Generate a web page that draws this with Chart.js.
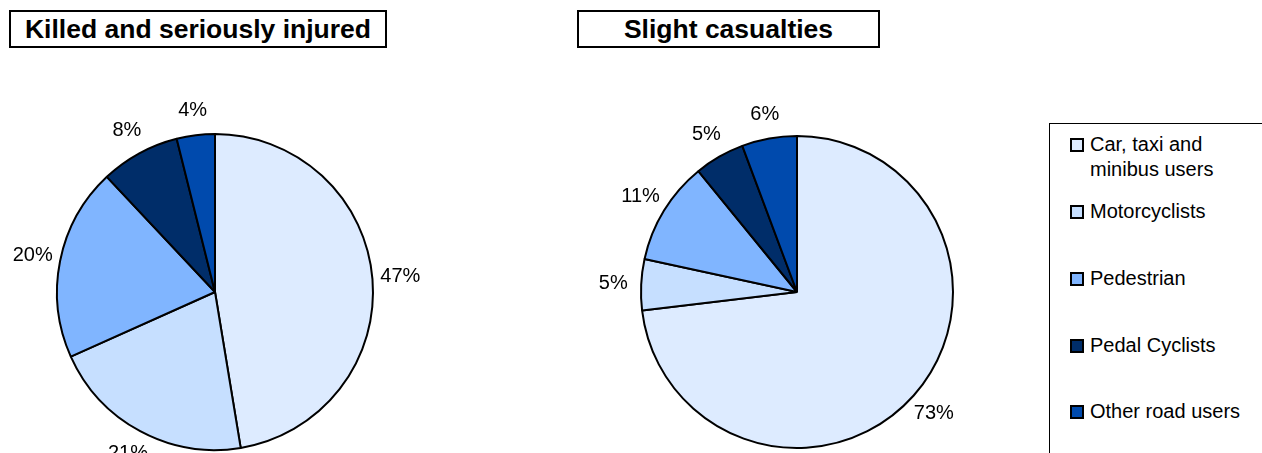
<!DOCTYPE html>
<html>
<head>
<meta charset="utf-8">
<script src="https://cdn.jsdelivr.net/npm/chart.js@4"></script>
<style>
  html, body { margin: 0; padding: 0; background: #fff; width: 1262px; height: 453px; overflow: hidden; position: relative; font-family: "Liberation Sans", Arial, sans-serif; }
  .title { position: absolute; border: 2px solid #000; box-sizing: border-box; font-weight: bold; font-size: 26.5px; text-align: center; color: #000; background: #fff; }
  .cw { position: absolute; }
  #legend { position: absolute; left: 1049px; top: 123px; width: 240px; height: 400px; border: 1.5px solid #000; box-sizing: border-box; background: #fff; }
  .li { position: absolute; left: 20px; font-size: 20px; color: #000; line-height: 25px; }
  .sw { position: absolute; left: 0; width: 10px; height: 10px; border: 2px solid #000; }
  .lt { position: absolute; left: 20px; white-space: nowrap; }
</style>
</head>
<body>
<div class="title" style="left:9px;top:10px;width:378px;height:38px;line-height:34px;">Killed and seriously injured</div>
<div class="title" style="left:577px;top:10px;width:303px;height:38px;line-height:34px;">Slight casualties</div>
<div class="cw" style="left:0px;top:80px;width:440px;height:420px;"><canvas id="c1"></canvas></div>
<div class="cw" style="left:560px;top:80px;width:500px;height:420px;"><canvas id="c2"></canvas></div>
<div id="legend"></div>
<script>
const categories = ["Car, taxi and minibus users", "Motorcyclists", "Pedestrian", "Pedal Cyclists", "Other road users"];
const legendLines = [["Car, taxi and", "minibus users"], ["Motorcyclists"], ["Pedestrian"], ["Pedal Cyclists"], ["Other road users"]];
const ksiValues = [47.4, 20.9, 19.7, 8.1, 3.9];
const slightValues = [73.1, 5.3, 10.7, 5.2, 5.7];
const sliceColors = ["#DDEBFF", "#C6DFFF", "#80B5FF", "#002D69", "#004AAD"];

const labelPlugin = {
  id: 'outLabels',
  afterDatasetsDraw(chart) {
    const ctx = chart.ctx;
    const meta = chart.getDatasetMeta(0);
    const data = chart.data.datasets[0].data;
    const total = data.reduce((a, b) => a + b, 0);
    ctx.save();
    ctx.font = '20px "Liberation Sans", Arial, sans-serif';
    ctx.fillStyle = '#000';
    ctx.textAlign = 'center';
    ctx.textBaseline = 'middle';
    meta.data.forEach((arc, i) => {
      const p = arc.getProps(['x', 'y', 'startAngle', 'endAngle', 'outerRadius'], true);
      const mid = (p.startAngle + p.endAngle) / 2;
      const c = Math.cos(mid), s = Math.sin(mid);
      const d = p.outerRadius + 24 + 4 * Math.abs(c);
      const pct = Math.round(data[i] / total * 100) + '%';
      ctx.fillText(pct, p.x + c * d, p.y + s * d);
    });
    ctx.restore();
  }
};

function makePie(id, values, pad) {
  new Chart(document.getElementById(id), {
    type: 'pie',
    data: {
      labels: categories,
      datasets: [{ data: values, backgroundColor: sliceColors, borderColor: '#000', borderWidth: 2 }]
    },
    options: {
      responsive: true,
      maintainAspectRatio: false,
      animation: false,
      layout: { padding: pad },
      plugins: { legend: { display: false }, tooltip: { enabled: false }, title: { display: false } }
    },
    plugins: [labelPlugin]
  });
}
makePie('c1', ksiValues, { left: 56, right: 66, top: 53, bottom: 49 });
makePie('c2', slightValues, { left: 80, right: 106, top: 55, bottom: 51 });

// HTML legend built from the arrays
const legendTops = [8, 75, 142, 209, 275];
const lg = document.getElementById('legend');
categories.forEach((c, i) => {
  const item = document.createElement('div');
  item.className = 'li';
  item.style.top = legendTops[i] + 'px';
  const sw = document.createElement('div');
  sw.className = 'sw';
  sw.style.background = sliceColors[i];
  sw.style.top = '6px';
  item.appendChild(sw);
  const t = document.createElement('div');
  t.className = 'lt';
  t.innerHTML = legendLines[i].join('<br>');
  item.appendChild(t);
  lg.appendChild(item);
});
</script>
</body>
</html>
